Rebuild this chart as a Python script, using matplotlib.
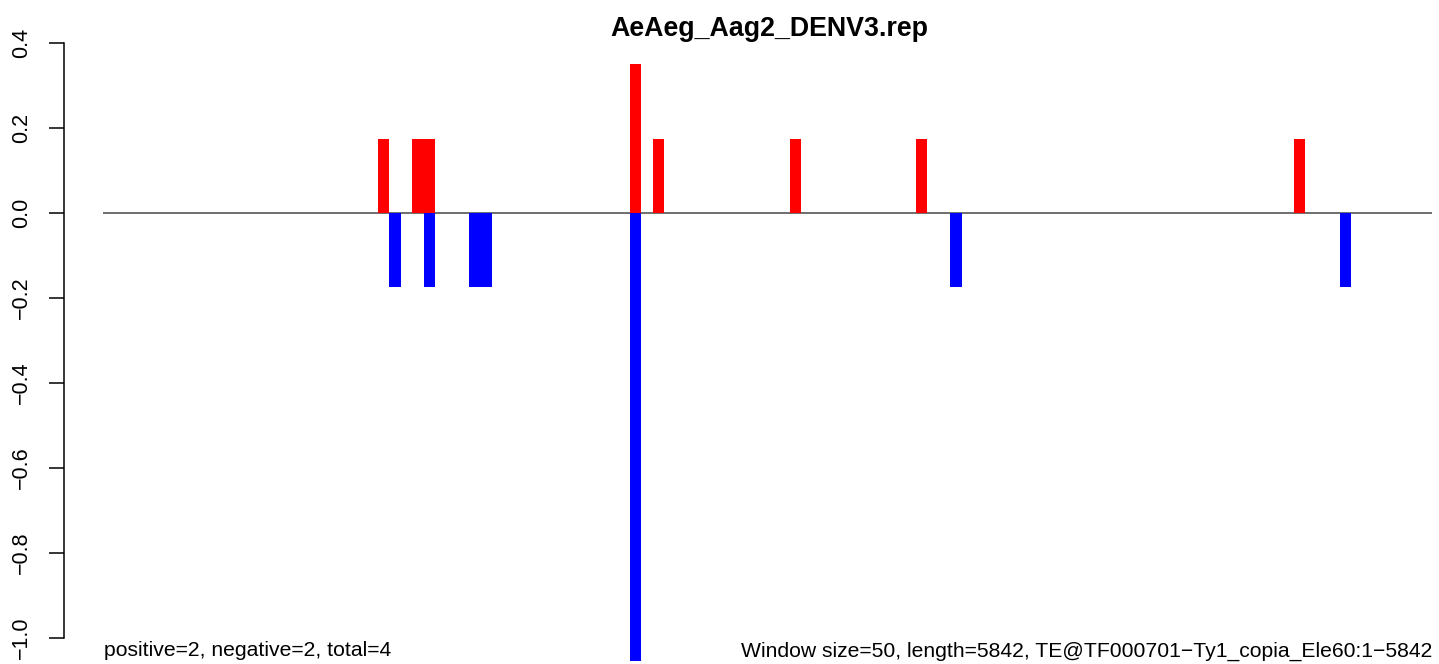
import matplotlib
matplotlib.use("Agg")
import matplotlib.pyplot as plt

plt.rcParams["font.family"] = ["Liberation Sans", "DejaVu Sans"]

# window starts (bp) and scaled counts
pos_starts = [1200, 1350, 1400, 2300, 2400, 3000, 3550, 5200]
pos_values = [0.175, 0.175, 0.175, 0.351, 0.175, 0.175, 0.175, 0.175]
neg_starts = [1250, 1400, 1600, 1650, 2300, 3700, 5400]
neg_values = [-0.175, -0.175, -0.175, -0.175, -1.055, -0.175, -0.175]
window = 50
yticks = [-1.0, -0.8, -0.6, -0.4, -0.2, 0.0, 0.2, 0.4]

title = "AeAeg_Aag2_DENV3.rep"
left_note = "positive=2, negative=2, total=4"
right_note = "Window size=50, length=5842, TE@TF000701\u2212Ty1_copia_Ele60:1\u22125842"

W, H = 1439, 664
fig = plt.figure(figsize=(W / 100, H / 100), dpi=100)
ax = fig.add_axes([103 / W, (H - 662) / H, (1432 - 103) / W, 643 / H])

ax.bar(pos_starts, pos_values, width=window, align="edge", color="#ff0000", linewidth=0)
ax.bar(neg_starts, neg_values, width=window, align="edge", color="#0000ff", linewidth=0)
ax.axhline(0, color="#555555", lw=1.2, zorder=0)

ax.set_xlim(0, 5803.5)
ax.set_ylim(-1.0565, 0.4565)

for s in ("top", "right", "bottom"):
    ax.spines[s].set_visible(False)
ax.spines["left"].set_position(("outward", 28))
ax.spines["left"].set_bounds(-1.0, 0.4)
ax.spines["left"].set_linewidth(1.1)
ax.set_xticks([])
ax.set_yticks(yticks)
ax.set_yticklabels([f"{v:.1f}".replace("-", "\u2212") for v in yticks],
                   rotation=90, va="center", fontsize=15.5)
ax.tick_params(axis="y", length=11, width=1.1, pad=12)

fig.text(769 / W, (H - 29) / H, title, ha="center", va="center",
         fontsize=19.3, fontweight="bold")
fig.text(104 / W, (H - 651) / H, left_note, ha="left", va="center", fontsize=15.2)
fig.text(1432 / W, (H - 651) / H, right_note, ha="right", va="center", fontsize=15.2)

fig.savefig("out.png", dpi=100)
